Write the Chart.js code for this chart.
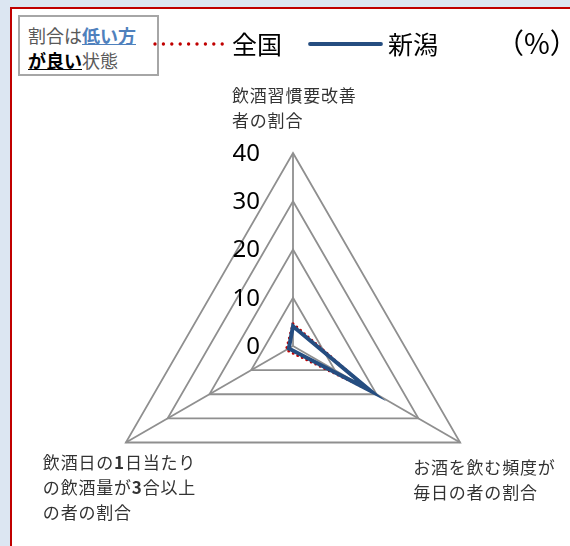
<!DOCTYPE html>
<html>
<head>
<meta charset="utf-8">
<script src="https://cdn.jsdelivr.net/npm/chart.js@4"></script>
<style>
  html, body { margin:0; padding:0; }
  body { width:570px; height:546px; background:#dce6f2; position:relative; overflow:hidden; font-family:"Noto Sans CJK JP", sans-serif; }
  #panel { position:absolute; left:10px; top:7px; width:580px; height:560px; background:#fff; border:2px solid #c00000; box-sizing:border-box; }
  #chart { position:absolute; left:0; top:0; }
  #note { position:absolute; left:18px; top:15px; width:141px; height:61px; box-sizing:border-box; border:2px solid #a6a6a6; background:#fff;
          font-size:18px; line-height:25px; color:#595959; padding:6px 0 0 8px; white-space:nowrap; }
  #note .blue { color:#4f81bd; font-weight:bold; text-decoration:underline; }
  #note .blk { color:#000; font-weight:bold; text-decoration:underline; }
  .leg { position:absolute; font-size:25px; line-height:30px; color:#000; white-space:nowrap; }
  svg.legline { position:absolute; }
</style>
</head>
<body>
<div id="panel"></div>
<canvas id="chart" width="570" height="546"></canvas>
<div id="note">割合は<span class="blue">低い方</span><br><span class="blk">が良い</span>状態</div>
<svg class="legline" style="left:150px;top:38px" width="80" height="12"><line x1="5" y1="6" x2="75" y2="6" stroke="#c00000" stroke-width="3.4" stroke-linecap="round" stroke-dasharray="0 8.4"/></svg>
<div class="leg" id="lgZ" style="left:232px;top:28px">全国</div>
<svg class="legline" style="left:308px;top:38px" width="76" height="12"><line x1="2" y1="6" x2="73" y2="6" stroke="#254d80" stroke-width="3.8" stroke-linecap="round"/></svg>
<div class="leg" id="lgN" style="left:388px;top:28px">新潟</div>
<div class="leg" id="unit" style="left:496px;top:25px;font-size:28px;line-height:34px">（%）</div>
<script>
// ---- data ----
const categories = [
  ['飲酒習慣要改善', '者の割合'],
  ['お酒を飲む頻度が', '毎日の者の割合'],
  ['飲酒日の1日当たり', 'の飲酒量が3合以上', 'の者の割合']
];
const seriesNames = ['全国', '新潟'];
const zenkoku = [4.6, 18.2, 1.6];
const niigata = [4.1, 18.6, 1.0];
const tickValues = [0, 10, 20, 30, 40];

// label block offsets relative to each axis end point (left edge, first line centre)
const labelOffsets = [[-61, -57.5], [-47, 25], [-83, 20]];

function drawRich(ctx, text, x, y) {
  const parts = text.split(/(\d+)/).filter(s => s.length);
  let cx = x;
  for (const p of parts) {
    const bold = /^\d+$/.test(p);
    ctx.font = (bold ? 'bold ' : '') + '17px "Noto Sans CJK JP"';
    ctx.fillText(p, cx, y);
    cx += ctx.measureText(p).width;
  }
}

const labelPlugin = {
  id: 'labels',
  afterDraw(chart) {
    const ctx = chart.ctx;
    const s = chart.scales.r;
    ctx.save();
    // tick labels
    ctx.font = '24px "Noto Sans"';
    ctx.fillStyle = '#000';
    ctx.textAlign = 'right';
    ctx.textBaseline = 'middle';
    for (const v of tickValues) {
      const d = s.getDistanceFromCenterForValue(v);
      ctx.fillText(String(v), s.xCenter - 33, s.yCenter - d + 1);
    }
    // axis labels
    ctx.fillStyle = '#333';
    ctx.textAlign = 'left';
    ctx.textBaseline = 'middle';
    if ('letterSpacing' in ctx) ctx.letterSpacing = '0.8px';
    categories.forEach((lines, i) => {
      const p = s.getPointPosition(i, s.drawingArea);
      const [ox, oy] = labelOffsets[i];
      lines.forEach((ln, k) => drawRich(ctx, ln, p.x + ox, p.y + oy + k * 24.8));
    });
    if ('letterSpacing' in ctx) ctx.letterSpacing = '0px';
    ctx.restore();
  }
};

new Chart(document.getElementById('chart'), {
  type: 'radar',
  data: {
    labels: categories,
    datasets: [
      {
        label: seriesNames[1],
        data: niigata,
        borderColor: '#254d80',
        borderWidth: 4,
        fill: false,
        pointRadius: 0,
        tension: 0,
        borderJoinStyle: 'miter'
      },
      {
        label: seriesNames[0],
        data: zenkoku,
        borderColor: '#c00000',
        borderWidth: 3,
        borderDash: [0, 5],
        borderCapStyle: 'round',
        fill: false,
        pointRadius: 0,
        tension: 0
      }
    ]
  },
  options: {
    responsive: false,
    animation: false,
    devicePixelRatio: 1,
    layout: { padding: { left: 100, top: 153, right: 84, bottom: 7 } },
    plugins: { legend: { display: false }, tooltip: { enabled: false } },
    scales: {
      r: {
        min: 0, max: 40,
        ticks: { stepSize: 10, display: false },
        pointLabels: { display: false },
        grid: { color: '#8f8f8f', lineWidth: 1.8 },
        angleLines: { color: '#8f8f8f', lineWidth: 1.8 }
      }
    }
  },
  plugins: [labelPlugin]
});
</script>
</body>
</html>
